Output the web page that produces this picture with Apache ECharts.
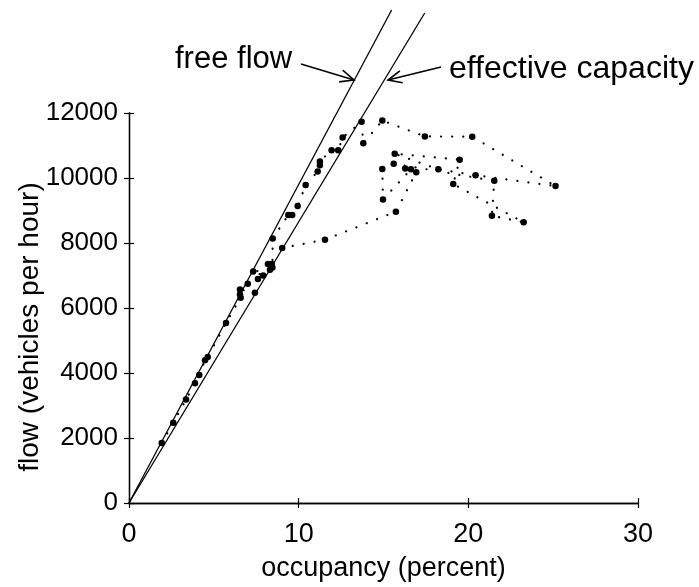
<!DOCTYPE html>
<html>
<head>
<meta charset="utf-8">
<script src="https://cdn.jsdelivr.net/npm/echarts@6/dist/echarts.min.js"></script>
<style>
html,body{margin:0;padding:0;background:#fff;}
#chart{width:699px;height:587px;}
</style>
</head>
<body>
<div id="chart"></div>
<script>
const occupancy = [1.93, 2.61, 3.36, 3.89, 4.14, 4.48, 4.64, 5.72, 6.58, 6.54, 6.54, 7.42, 7.00, 7.60, 7.91, 7.32,
  8.31, 8.19, 8.41, 8.45, 8.47, 9.39, 9.62, 9.94, 10.41, 11.12, 11.25, 11.25, 11.94, 12.33, 12.59, 13.71, 13.81,
  14.93, 17.44, 20.23, 25.14, 20.43, 18.23, 15.66, 19.49, 19.11, 23.26, 21.39, 21.53, 15.60, 14.93, 14.97, 16.62,
  16.28, 16.93, 15.73, 11.55, 9.03];
const flow = [1844, 2470, 3181, 3685, 3940, 4396, 4496, 5538, 6319, 6419, 6571, 6471, 6744, 6896, 6997, 7124,
  7180, 7352, 7352, 7250, 8142, 8862, 8862, 9135, 9782, 10198, 10390, 10511, 10855, 10855, 11250, 11727, 11068,
  11766, 11280, 11271, 9752, 10086, 10268, 10745, 10563, 9813, 8637, 8841, 9913, 10442, 10278, 9336, 10268,
  10290, 10177, 8962, 8102, 7847];
// reference lines (end points; they run past the top of the box)
const freeFlowOcc = [0, 15.48];
const freeFlowFlow = [0, 15170];
const effCapOcc = [0, 17.43];
const effCapFlow = [0, 15077];
// ticks
const xTicks = [0, 10, 20, 30];
const yTicks = [0, 2000, 4000, 6000, 8000, 10000, 12000];
const xTitle = 'occupancy (percent)';
const yTitle = 'flow (vehicles per hour)';
const freeFlowLabel = 'free flow';
const effCapLabel = 'effective capacity';

const FONT = 'Liberation Sans, Arial, Helvetica, sans-serif';
const pts = occupancy.map((x, i) => [x, flow[i]]);
const pair = (a, b) => a.map((x, i) => [x, b[i]]);

const axisBase = {
  type: 'value',
  axisLine: {show: true, lineStyle: {color: '#000', width: 1.3}},
  axisTick: {show: true, inside: true, length: 5, lineStyle: {color: '#000', width: 1.2}},
  splitLine: {show: false}
};

function arrow(x1, y1, x2, y2) {
  const dx = x2 - x1, dy = y2 - y1, L = Math.hypot(dx, dy);
  const ux = dx / L, uy = dy / L, h = 15, a = 0.42;
  const c = Math.cos(a), s = Math.sin(a);
  const b1 = [x2 - h * (ux * c - uy * s), y2 - h * (uy * c + ux * s)];
  const b2 = [x2 - h * (ux * c + uy * s), y2 - h * (uy * c - ux * s)];
  return [
    {type: 'polyline', shape: {points: [[x1, y1], [x2, y2]]}, style: {stroke: '#000', lineWidth: 1.6, fill: null}},
    {type: 'polyline', shape: {points: [b1, [x2, y2], b2]}, style: {stroke: '#000', lineWidth: 1.6, fill: null}}
  ];
}

const chart = echarts.init(document.getElementById('chart'), null, {renderer: 'canvas'});
chart.setOption({
  animation: false,
  backgroundColor: '#fff',
  grid: {left: 129, right: 61, top: 113, bottom: 79, containLabel: false},
  xAxis: [
    Object.assign({}, axisBase, {
      position: 'bottom', min: xTicks[0], max: xTicks[xTicks.length - 1], interval: 10,
      axisLabel: {color: '#000', fontSize: 27, fontFamily: FONT, margin: 18, formatter: v => String(v)},
      name: xTitle, nameLocation: 'middle', nameGap: 52,
      nameTextStyle: {color: '#000', fontSize: 27, fontFamily: FONT}
    }),
    Object.assign({}, axisBase, {
      position: 'top', min: xTicks[0], max: xTicks[xTicks.length - 1], interval: 10,
      axisLabel: {show: false}
    })
  ],
  yAxis: [
    Object.assign({}, axisBase, {
      position: 'left', min: yTicks[0], max: yTicks[yTicks.length - 1], interval: 2000,
      axisLabel: {color: '#000', fontSize: 26, fontFamily: FONT, margin: 11, formatter: v => String(v)}
    }),
    Object.assign({}, axisBase, {
      position: 'right', min: yTicks[0], max: yTicks[yTicks.length - 1], interval: 2000,
      axisLabel: {show: false}
    })
  ],
  series: [
    {
      type: 'line', data: pair(freeFlowOcc, freeFlowFlow), clip: false, symbol: 'none',
      lineStyle: {color: '#000', width: 1.3}, z: 3
    },
    {
      type: 'line', data: pair(effCapOcc, effCapFlow), clip: false, symbol: 'none',
      lineStyle: {color: '#000', width: 1.3}, z: 3
    },
    {
      type: 'line', data: pts, symbol: 'circle', symbolSize: 6.5, showSymbol: true,
      itemStyle: {color: '#000'},
      lineStyle: {color: '#000', width: 2.2, type: [0.1, 11], cap: 'round'}, z: 4
    }
  ],
  graphic: [
    {type: 'text', x: 30, y: 327, rotation: Math.PI / 2,
     style: {text: yTitle, fill: '#000', font: '28px ' + FONT, align: 'center', verticalAlign: 'middle'}},
    {type: 'text', style: {text: freeFlowLabel, x: 175, y: 59, fill: '#000', font: '31px ' + FONT, textVerticalAlign: 'middle', verticalAlign: 'middle'}},
    {type: 'text', style: {text: effCapLabel, x: 449, y: 69, fill: '#000', font: '32px ' + FONT, textVerticalAlign: 'middle', verticalAlign: 'middle'}}
  ].concat(arrow(301, 64, 354, 80), arrow(441, 67, 388, 80))
});
</script>
</body>
</html>
